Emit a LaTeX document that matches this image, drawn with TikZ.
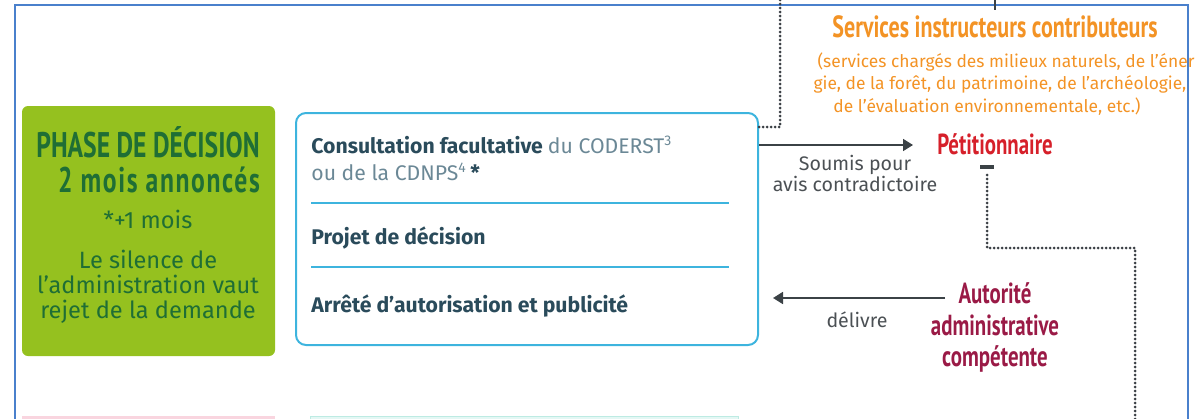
\documentclass[tikz,border=0pt]{standalone}
\usepackage{fontspec}
\setmainfont{Fira Sans}
\newfontfamily\condb[FakeStretch=0.72]{PT Sans}
\newfontfamily\condbsp[FakeStretch=0.72,LetterSpace=4.5]{PT Sans}
\usetikzlibrary{arrows.meta}
\definecolor{frameblue}{HTML}{4A80CC}
\definecolor{phasegreen}{HTML}{95C11F}
\definecolor{phasetxt}{HTML}{1F6E35}
\definecolor{procblue}{HTML}{3DB4DE}
\definecolor{proctxt}{HTML}{2A4B5B}
\definecolor{proclight}{HTML}{6B8896}
\definecolor{arrgray}{HTML}{3B4246}
\definecolor{lblgray}{HTML}{4B5054}
\definecolor{petred}{HTML}{D6202A}
\definecolor{autred}{HTML}{9A1A46}
\definecolor{servorange}{HTML}{F39325}
\definecolor{dotgray}{HTML}{3A3F44}
\definecolor{pinkstrip}{HTML}{F9D5DF}
\definecolor{tealstrip}{HTML}{BDEBE3}
\begin{document}
\begin{tikzpicture}[x=0.5pt,y=-0.5pt,
  txt/.style={inner sep=0pt, anchor=base},
  txtl/.style={inner sep=0pt, anchor=base west},
  phasebox/.style={fill=phasegreen, rounded corners=3pt, minimum width=126.5pt, minimum height=125pt, inner sep=0pt},
  procbox/.style={draw=procblue, line width=1pt, rounded corners=5pt, minimum width=231pt, minimum height=116pt, inner sep=0pt},
  sepline/.style={draw=procblue, line width=0.9pt},
  arr/.style={draw=arrgray, line width=0.9pt, -{Triangle[length=5pt,width=6pt]}},
  dots/.style={draw=dotgray, line width=1.5pt, line cap=round, dash pattern=on 0pt off 2pt},
  phtitle/.style={txt, text=phasetxt, font=\condb\bfseries\fontsize{17.8}{20}\selectfont},
  phbody/.style={txt, text=phasetxt, font=\fontsize{11.8}{13}\selectfont},
  procb/.style={txtl, text=proctxt, font=\bfseries\fontsize{10.6}{12}\selectfont},
  lbl/.style={txt, text=lblgray, font=\fontsize{9.8}{11}\selectfont},
  headc/.style={txt, font=\condb\bfseries\fontsize{14.5}{16}\selectfont},
  servsub/.style={txt, text=servorange, font=\fontsize{8.7}{11}\selectfont},
]
\useasboundingbox (0,0) rectangle (1200,418);
\clip (0,0) rectangle (1200,418);

% outer frame
\draw[frameblue, line width=1pt] (15,440) -- (15,5) -- (1188,5) -- (1188,440);

% bottom strips (next row)
\fill[pinkstrip] (22,416) rectangle (275,430);
\fill[tealstrip!40, draw=tealstrip] (310,416) rectangle (738,430);

% phase box
\node[phasebox] (phase) at (148.5,231) {};
\node[phtitle] (t1) at (148,157) {PHASE DE DÉCISION};
\node[txt, text=phasetxt, font=\condbsp\bfseries\fontsize{17.8}{20}\selectfont] (t2) at (159,192) {2 mois annoncés};
\node[phbody] (t3) at (148,228) {*+1 mois};
\node[phbody] (t4) at (148,268) {Le silence de};
\node[phbody] (t5) at (148,293) {l’administration vaut};
\node[phbody] (t6) at (148,318) {rejet de la demande};

% process box
\node[procbox] (proc) at (527,229) {};
\node[procb] (c1) at (311,153) {Consultation facultative \mdseries\color{proclight}du CODERST\textsuperscript{\scriptsize 3}};
\node[txtl, text=proclight, font=\fontsize{10.6}{12}\selectfont] (c2) at (311,180) {ou de la CDNPS\textsuperscript{\scriptsize 4}\,\textcolor{proctxt}{\bfseries*}};
\draw[sepline] (311,203) -- (729,203);
\node[procb] (c3) at (311,244) {Projet de décision};
\draw[sepline] (311,267) -- (729,267);
\node[procb] (c4) at (311,312) {Arrêté d’autorisation et publicité};

% services
\node[txt, text=servorange, font=\condb\bfseries\fontsize{15.3}{18}\selectfont] (serv) at (995,37) {Services instructeurs contributeurs};
\node[servsub] (s1) at (1006,67) {(services chargés des milieux naturels, de l’éner};
\node[servsub] (s2) at (1000,89) {gie, de la forêt, du patrimoine, de l’archéologie,};
\node[servsub] (s3) at (987,112) {de l’évaluation environnementale, etc.)};

% petitionnaire
\node[headc, text=petred] (pet) at (995,154) {Pétitionnaire};
% autorite
\node[headc, text=autred] (aut1) at (995,303) {Autorité};
\node[headc, text=autred] (aut2) at (995,335) {administrative};
\node[headc, text=autred] (aut3) at (995,366) {compétente};

% arrows
\draw[arr] (proc.east |- 0,145) -- (913,145);
\node[lbl] (l1) at (855,170) {Soumis pour};
\node[lbl] (l2) at (855,191) {avis contradictoire};
\coordinate (autw) at (945,298);
\draw[arr] (autw) -- (773,298);
\node[lbl] (l3) at (857,327) {délivre};

% dotted connectors
\coordinate (servtop) at (780,0);
\draw[dots] (servtop) -- (780,127) -- (proc.east |- 0,127);
\draw[arrgray, line width=1pt] (995,0) -- (995,10);
\draw[arrgray, line width=2pt] (980,167) -- (994,167);
\coordinate (petdot) at (987,175);
\draw[dots] (petdot) -- (987,248) -- (1135,248) -- (1135,430);
\end{tikzpicture}
\end{document}
